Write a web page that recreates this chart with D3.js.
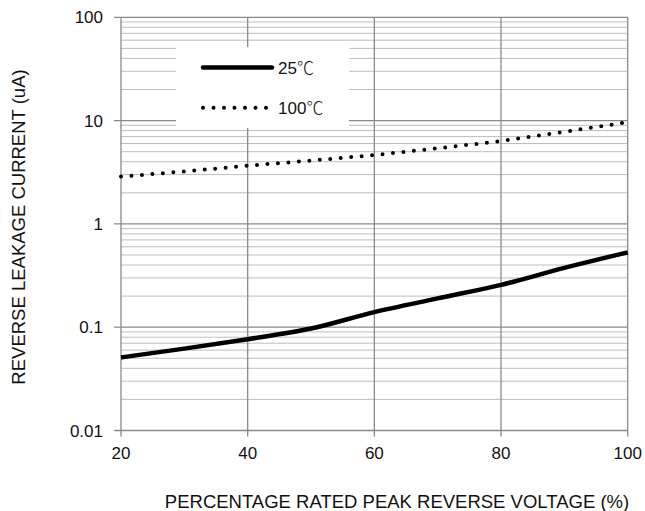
<html>
<head>
  <title>Reverse leakage current</title>
  <script src="https://d3js.org/d3.v7.min.js"></script>
</head>
<style>
  body { margin: 0; background: #fff; }
  text { font-family: "Liberation Sans", Arial, sans-serif; }
</style>
<body>
<svg width="645" height="511"></svg>
<script>

  // values
  let voltage = [20, 30, 40, 50, 60, 70, 80, 90, 100];
  let current25 = [0.051, 0.062, 0.0766, 0.097, 0.14, 0.19, 0.257, 0.375, 0.53];
  let current100 = [2.87, 3.22, 3.66, 4.1, 4.65, 5.4, 6.36, 7.8, 9.65];
  let xTicks = [20, 40, 60, 80, 100];
  let yTicks = [0.01, 0.1, 1, 10, 100];
  let yTickLabels = ["0.01", "0.1", "1", "10", "100"];
  let legendNames = ["25", "100"];

  let svg = d3.select("svg"),
          plotLeft = 121, plotRight = 627.7, plotTop = 17.3, plotBottom = 430.5,
          g = svg.append("g");

  let xScale = d3.scaleLinear().domain([20, 100]).range([plotLeft, plotRight]);
  let yScale = d3.scaleLog().domain([0.01, 100]).range([plotBottom, plotTop]);

  // minor horizontal grid
  let minor = [];
  yTicks.slice(0, -1).forEach(function (d) {
    for (let k = 2; k <= 9; k++) minor.push(d * k);
  });
  g.selectAll(".minor").data(minor).enter().append("line")
          .attr("x1", plotLeft).attr("x2", plotRight)
          .attr("y1", d => yScale(d)).attr("y2", d => yScale(d))
          .attr("stroke", "#bdbdbd").attr("stroke-width", 1);

  // major grid
  g.selectAll(".hmajor").data(yTicks).enter().append("line")
          .attr("x1", plotLeft - 7).attr("x2", plotRight)
          .attr("y1", d => yScale(d)).attr("y2", d => yScale(d))
          .attr("stroke", "#898989").attr("stroke-width", 1.3);
  g.selectAll(".vmajor").data(xTicks).enter().append("line")
          .attr("x1", d => xScale(d)).attr("x2", d => xScale(d))
          .attr("y1", plotTop).attr("y2", plotBottom + 6)
          .attr("stroke", "#898989").attr("stroke-width", 1.3);

  // tick labels
  g.selectAll(".ylab").data(yTicks).enter().append("text")
          .attr("x", plotLeft - 18).attr("y", d => yScale(d))
          .attr("dy", "0.36em").attr("text-anchor", "end")
          .attr("font-size", 17).attr("fill", "#111")
          .text((d, i) => yTickLabels[i]);
  g.selectAll(".xlab").data(xTicks).enter().append("text")
          .attr("x", d => xScale(d)).attr("y", plotBottom + 28)
          .attr("text-anchor", "middle")
          .attr("font-size", 17).attr("fill", "#111")
          .text(d => d);

  // axis titles
  svg.append("text")
          .attr("x", 397).attr("y", 508)
          .attr("text-anchor", "middle").attr("font-size", 18.5).attr("fill", "#111")
          .text("PERCENTAGE RATED PEAK REVERSE VOLTAGE (%)");
  svg.append("text")
          .attr("transform", "translate(25,227) rotate(-90)")
          .attr("text-anchor", "middle").attr("font-size", 18.5).attr("fill", "#111")
          .text("REVERSE LEAKAGE CURRENT (uA)");

  let line = d3.line()
          .x((d, i) => xScale(voltage[i]))
          .y(d => yScale(d))
          .curve(d3.curveMonotoneX);

  g.append("path")
          .attr("d", line(current25))
          .attr("fill", "none").attr("stroke", "#000")
          .attr("stroke-width", 4.5);

  g.append("path")
          .attr("d", line(current100))
          .attr("fill", "none").attr("stroke", "#000")
          .attr("stroke-width", 4)
          .attr("stroke-linecap", "round")
          .attr("stroke-dasharray", "0 10.5");

  // legend
  let lg = svg.append("g");
  lg.append("rect")
          .attr("x", 176).attr("y", 47).attr("width", 173).attr("height", 81)
          .attr("fill", "#fff");
  lg.append("line")
          .attr("x1", 203).attr("x2", 272).attr("y1", 67.5).attr("y2", 67.5)
          .attr("stroke", "#000").attr("stroke-width", 4.5).attr("stroke-linecap", "round");
  lg.append("line")
          .attr("x1", 203).attr("x2", 272).attr("y1", 107.7).attr("y2", 107.7)
          .attr("stroke", "#000").attr("stroke-width", 4).attr("stroke-linecap", "round")
          .attr("stroke-dasharray", "0 10.5");
  let lt = lg.selectAll(".ltext").data(legendNames).enter().append("text")
          .attr("x", 278).attr("y", (d, i) => 68 + i * 40)
          .attr("dy", "0.36em").attr("font-size", 17).attr("fill", "#111")
          .text(d => d);
  lt.append("tspan")
          .attr("font-family", "'Noto Sans CJK SC', sans-serif")
          .attr("font-weight", 300)
          .text("\u2103");

</script>
</body>
</html>
